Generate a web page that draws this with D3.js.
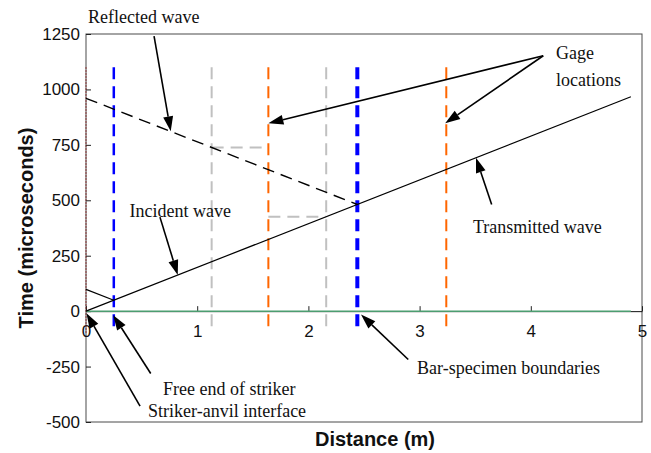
<!DOCTYPE html>
<html>
<head>
<meta charset="utf-8">
<script src="https://cdn.jsdelivr.net/npm/d3@7"></script>
<style>
  html, body { margin: 0; padding: 0; background: #fff; }
  svg { display: block; }
  .ann { font-family: "Liberation Serif", "Times New Roman", serif; font-size: 18px; fill: #111; }
  .tick text { font-family: "Liberation Sans", Arial, sans-serif; font-size: 17px; fill: #111; }
  .title { font-family: "Liberation Sans", Arial, sans-serif; font-size: 20px; font-weight: bold; fill: #111; }
</style>
</head>
<body>
<svg id="chart" width="651" height="453"></svg>
<script>
// ---------- data ----------
const xTicks = [0, 1, 2, 3, 4, 5];
const xTickLabels = ["0", "1", "2", "3", "4", "5"];
const yTicks = [-500, -250, 0, 250, 500, 750, 1000, 1250];
const yTickLabels = ["-500", "-250", "0", "250", "500", "750", "1000", "1250"];

// vertical marker lines (position in m)
const markerX     = [0, 0.25, 1.13, 1.64, 2.16, 2.44, 3.24];
const markerKind  = ["end", "boundary", "grey", "gage", "grey", "boundary2", "gage"];
const markerRange = [-100, 1100];

// wave lines (distance m, time µs)
const incidentX = [0, 4.9];
const incidentT = [0, 967];
const reflectedX = [0, 2.44];
const reflectedT = [960, 481];
const strikerX = [0, 0.25];
const strikerT = [98, 49];
const baselineX = [0, 4.9];
const baselineT = [0, 0];
// grey dashed horizontal guides
const guideX1 = [1.13, 1.64];
const guideX2 = [1.64, 2.16];
const guideT  = [738, 426];

// annotations: label text, label anchor (m, µs), arrow tails and tips (m, µs)
const annText   = ["Reflected wave", "Incident wave", "Transmitted wave", "Gage", "locations",
                   "Free end of striker", "Striker-anvil interface", "Bar-specimen boundaries"];
const annX      = [0.018, 1.304, 3.48, 4.227, 4.227, 0.692, 0.558, 2.977];
const annT      = [1326, 455, 383, 1164, 1046, -352, -450, -253];
const annAnchor = ["start", "end", "start", "start", "start", "start", "start", "start"];

const arrowFromX = [0.612, 0.665, 3.648, 4.112, 4.112, 0.582, 0.486, 2.898];
const arrowFromT = [1240, 424, 481, 1152, 1152, -281, -428, -218];
const arrowToX   = [0.762, 0.825, 3.507, 1.64, 3.23, 0.245, 0.004, 2.473];
const arrowToT   = [811, 163, 692, 847, 847, -18, -9, -15];

// ---------- layout ----------
const svg = d3.select("#chart");
const L = 86, R = 642, T = 34, B = 422;
const x = d3.scaleLinear().domain([0, 5]).range([L, R]);
const y = d3.scaleLinear().domain([-500, 1250]).range([B, T]);

const styles = {
  end:       { stroke: "#8b1a1a", width: 1,   dash: "1.5,1.5" },
  boundary:  { stroke: "#0000ff", width: 2.5, dash: "12,7" },
  boundary2: { stroke: "#0000ff", width: 4,   dash: "12,7" },
  grey:      { stroke: "#c0c0c0", width: 2,   dash: "12,7" },
  gage:      { stroke: "#ff6600", width: 2,   dash: "12,7" }
};

// frame
svg.append("rect")
  .attr("x", L).attr("y", T).attr("width", R - L).attr("height", B - T)
  .attr("fill", "none").attr("stroke", "#4a4a4a").attr("stroke-width", 1);

// y axis
const yAxis = svg.append("g")
  .attr("transform", `translate(${L},0)`)
  .call(d3.axisLeft(y).tickValues(yTicks)
    .tickFormat((d, i) => yTickLabels[i])
    .tickSizeInner(-5).tickSizeOuter(0).tickPadding(6));
yAxis.select(".domain").remove();
yAxis.selectAll(".tick line").attr("stroke", "#222");

// x axis along t = 0
const xAxis = svg.append("g")
  .attr("transform", `translate(0,${y(0)})`)
  .call(d3.axisBottom(x).tickValues(xTicks)
    .tickFormat((d, i) => xTickLabels[i])
    .tickSizeInner(-5).tickSizeOuter(0).tickPadding(14));
xAxis.select(".domain").attr("stroke", "#111");
xAxis.selectAll(".tick line").attr("stroke", "#222");

// baseline (green)
const line = d3.line().x(d => x(d[0])).y(d => y(d[1]));
svg.append("path")
  .attr("d", line(d3.zip(baselineX, baselineT)))
  .attr("stroke", "#4c9d70").attr("stroke-width", 1.5).attr("fill", "none");

// vertical markers
markerX.forEach((mx, i) => {
  const s = styles[markerKind[i]];
  svg.append("line")
    .attr("x1", x(mx)).attr("x2", x(mx))
    .attr("y1", y(markerRange[1])).attr("y2", y(markerRange[0]))
    .attr("stroke", s.stroke).attr("stroke-width", s.width)
    .attr("stroke-dasharray", s.dash);
});

// grey horizontal guides
[guideX1, guideX2].forEach((gx, i) => {
  svg.append("path")
    .attr("d", line(gx.map(v => [v, guideT[i]])))
    .attr("stroke", "#c0c0c0").attr("stroke-width", 2)
    .attr("stroke-dasharray", "12,7").attr("fill", "none");
});

// waves
svg.append("path").attr("d", line(d3.zip(incidentX, incidentT)))
  .attr("stroke", "#000").attr("stroke-width", 1.2).attr("fill", "none");
svg.append("path").attr("d", line(d3.zip(strikerX, strikerT)))
  .attr("stroke", "#000").attr("stroke-width", 1.2).attr("fill", "none");
svg.append("path").attr("d", line(d3.zip(reflectedX, reflectedT)))
  .attr("stroke", "#000").attr("stroke-width", 1.4).attr("stroke-dasharray", "12,7").attr("fill", "none");

// arrows
const headLen = 15, headHalf = 5;
arrowFromX.forEach((fx, i) => {
  const x1 = x(fx), y1 = y(arrowFromT[i]);
  const x2 = x(arrowToX[i]), y2 = y(arrowToT[i]);
  const dx = x2 - x1, dy = y2 - y1, len = Math.hypot(dx, dy);
  const ux = dx / len, uy = dy / len;
  const bx = x2 - ux * headLen, by = y2 - uy * headLen;
  svg.append("line").attr("x1", x1).attr("y1", y1).attr("x2", bx).attr("y2", by)
    .attr("stroke", "#000").attr("stroke-width", 1.6);
  svg.append("path")
    .attr("d", `M${x2},${y2}L${bx - uy * headHalf},${by + ux * headHalf}L${bx + uy * headHalf},${by - ux * headHalf}Z`)
    .attr("fill", "#000");
});

// annotation labels
annText.forEach((t, i) => {
  svg.append("text").attr("class", "ann")
    .attr("x", x(annX[i])).attr("y", y(annT[i]))
    .attr("dy", "0.35em")
    .attr("text-anchor", annAnchor[i])
    .text(t);
});

// axis titles
svg.append("text").attr("class", "title")
  .attr("x", 375).attr("y", 446)
  .attr("text-anchor", "middle").text("Distance (m)");
svg.append("text").attr("class", "title")
  .attr("transform", `translate(33,${(T + B) / 2}) rotate(-90)`)
  .attr("text-anchor", "middle").text("Time (microseconds)");
</script>
</body>
</html>
